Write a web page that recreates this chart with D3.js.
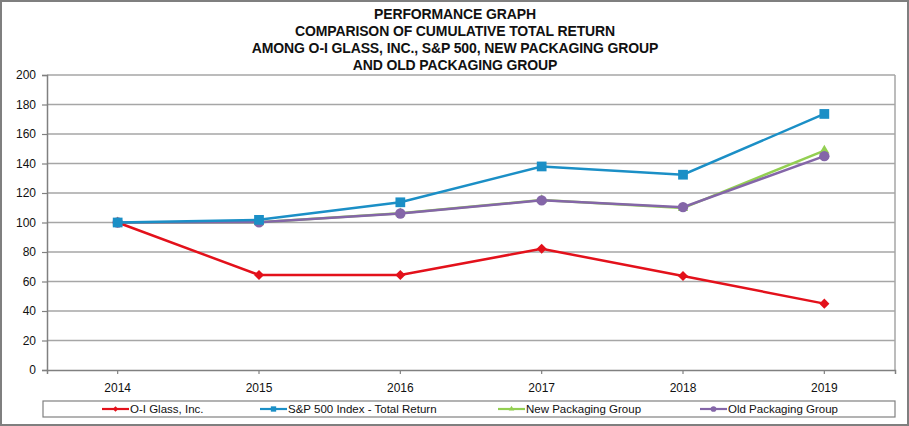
<!DOCTYPE html>
<html>
<head>
<meta charset="utf-8">
<script src="https://cdn.jsdelivr.net/npm/d3@7"></script>
<style>
  body { margin: 0; background: #fff; }
  svg { display: block; }
</style>
</head>
<body>
<script>
// chart data
var years = ["2014", "2015", "2016", "2017", "2018", "2019"];
var oiGlass = [100, 64.4, 64.4, 82.2, 63.7, 45];
var sp500 = [100, 101.8, 113.7, 138, 132.4, 173.6];
var newPack = [100, 100.2, 106.2, 115.2, 109.8, 148.7];
var oldPack = [100, 100.2, 106.1, 115, 110.4, 145];
var seriesNames = ["O-I Glass, Inc.", "S&P 500 Index - Total Return", "New Packaging Group", "Old Packaging Group"];
var yTicks = [0, 20, 40, 60, 80, 100, 120, 140, 160, 180, 200];
var titleLines = ["PERFORMANCE GRAPH", "COMPARISON OF CUMULATIVE TOTAL RETURN",
                  "AMONG O-I GLASS, INC., S&P 500, NEW PACKAGING GROUP", "AND OLD PACKAGING GROUP"];

var w = 909;
var h = 426;

var plot = { left: 47, right: 895, top: 75, bottom: 370 };

var colors = ["#e3111b", "#1b8fc6", "#93cf52", "#8466a8"];
var symbols = [d3.symbolDiamond2, d3.symbolSquare, d3.symbolTriangle, d3.symbolCircle];
var symSizes = [65, 95, 45, 85];

var svg = d3.select("body")
            .append("svg")
            .attr("width", w)
            .attr("height", h);

// outer frame
svg.append("rect")
   .attr("x", 1)
   .attr("y", 1)
   .attr("width", w - 2)
   .attr("height", h - 2)
   .attr("fill", "#fff")
   .attr("stroke", "#7f7f7f")
   .attr("stroke-width", 2);

// title
svg.selectAll(".title")
   .data(titleLines)
   .enter()
   .append("text")
   .attr("class", "title")
   .attr("x", 455)
   .attr("y", function(d, i) { return 19 + i * 17; })
   .attr("text-anchor", "middle")
   .style("font-family", "'Liberation Sans', Arial, sans-serif")
   .style("font-weight", "bold")
   .style("font-size", "14px")
   .style("letter-spacing", "-0.12px")
   .attr("fill", "#111")
   .text(function(d) { return d; });

var xScale = d3.scaleBand()
               .domain(years)
               .range([plot.left, plot.right]);

var yScale = d3.scaleLinear()
               .domain([0, 200])
               .range([plot.bottom, plot.top]);

function xc(d) {
  return xScale(d) + xScale.bandwidth() / 2;
}

// gridlines
svg.append("g")
   .selectAll("line")
   .data(yTicks.slice(1))
   .enter()
   .append("line")
   .attr("x1", plot.left)
   .attr("x2", plot.right)
   .attr("y1", function(d) { return yScale(d); })
   .attr("y2", function(d) { return yScale(d); })
   .attr("stroke", "#a6a6a6")
   .attr("stroke-width", 1.5);

// right border of plot
svg.append("line")
   .attr("x1", plot.right)
   .attr("x2", plot.right)
   .attr("y1", plot.top)
   .attr("y2", plot.bottom)
   .attr("stroke", "#a6a6a6")
   .attr("stroke-width", 1.5);

// y axis
var yAxis = svg.append("g")
   .attr("transform", "translate(" + plot.left + ",0)")
   .call(d3.axisLeft(yScale).tickValues(yTicks).tickSize(5).tickPadding(6));

// x axis
var xAxis = svg.append("g")
   .attr("transform", "translate(0," + plot.bottom + ")")
   .call(d3.axisBottom(xScale).tickSize(4).tickPadding(9));

[yAxis, xAxis].forEach(function(ax) {
  ax.select(".domain").attr("stroke", "#808080").attr("stroke-width", 1.5);
  ax.selectAll(".tick line").attr("stroke", "#808080").attr("stroke-width", 1.2);
  ax.selectAll("text")
    .attr("fill", "#111")
    .style("font-family", "'Liberation Sans', Arial, sans-serif")
    .style("font-size", "12px");
});

var allSeries = [oiGlass, sp500, newPack, oldPack];

var line = d3.line()
             .x(function(d, i) { return xc(years[i]); })
             .y(function(d) { return yScale(d); });

// draw in order so red and blue end up on top like the reference
var drawOrder = [2, 3, 0, 1];
drawOrder.forEach(function(k) {
  var g = svg.append("g");
  g.append("path")
   .datum(allSeries[k])
   .attr("d", line)
   .attr("fill", "none")
   .attr("stroke", colors[k])
   .attr("stroke-width", 2.5);
  g.selectAll("path.m")
   .data(allSeries[k])
   .enter()
   .append("path")
   .attr("class", "m")
   .attr("transform", function(d, i) {
       return "translate(" + xc(years[i]) + "," + yScale(d) + ")";
   })
   .attr("d", d3.symbol().type(symbols[k]).size(symSizes[k]))
   .attr("fill", colors[k]);
});

// legend
svg.append("rect")
   .attr("x", 43)
   .attr("y", 401)
   .attr("width", 852)
   .attr("height", 16)
   .attr("fill", "#fff")
   .attr("stroke", "#808080")
   .attr("stroke-width", 1.2);

var legendX = [102, 260, 498, 700];

var legend = svg.selectAll(".legend")
                .data(seriesNames)
                .enter()
                .append("g")
                .attr("class", "legend")
                .attr("transform", function(d, i) {
                    return "translate(" + legendX[i] + ",409)";
                });

legend.append("line")
      .attr("x1", 0)
      .attr("x2", 27)
      .attr("stroke", function(d, i) { return colors[i]; })
      .attr("stroke-width", 2.2);

legend.append("path")
      .attr("transform", "translate(13.5,0)")
      .attr("d", function(d, i) { return d3.symbol().type(symbols[i]).size(symSizes[i] * 0.3)(); })
      .attr("fill", function(d, i) { return colors[i]; });

legend.append("text")
      .attr("x", 28)
      .attr("y", 4)
      .style("font-family", "'Liberation Sans', Arial, sans-serif")
      .style("font-size", "11.5px")
      .attr("fill", "#111")
      .text(function(d) { return d; });
</script>
</body>
</html>
